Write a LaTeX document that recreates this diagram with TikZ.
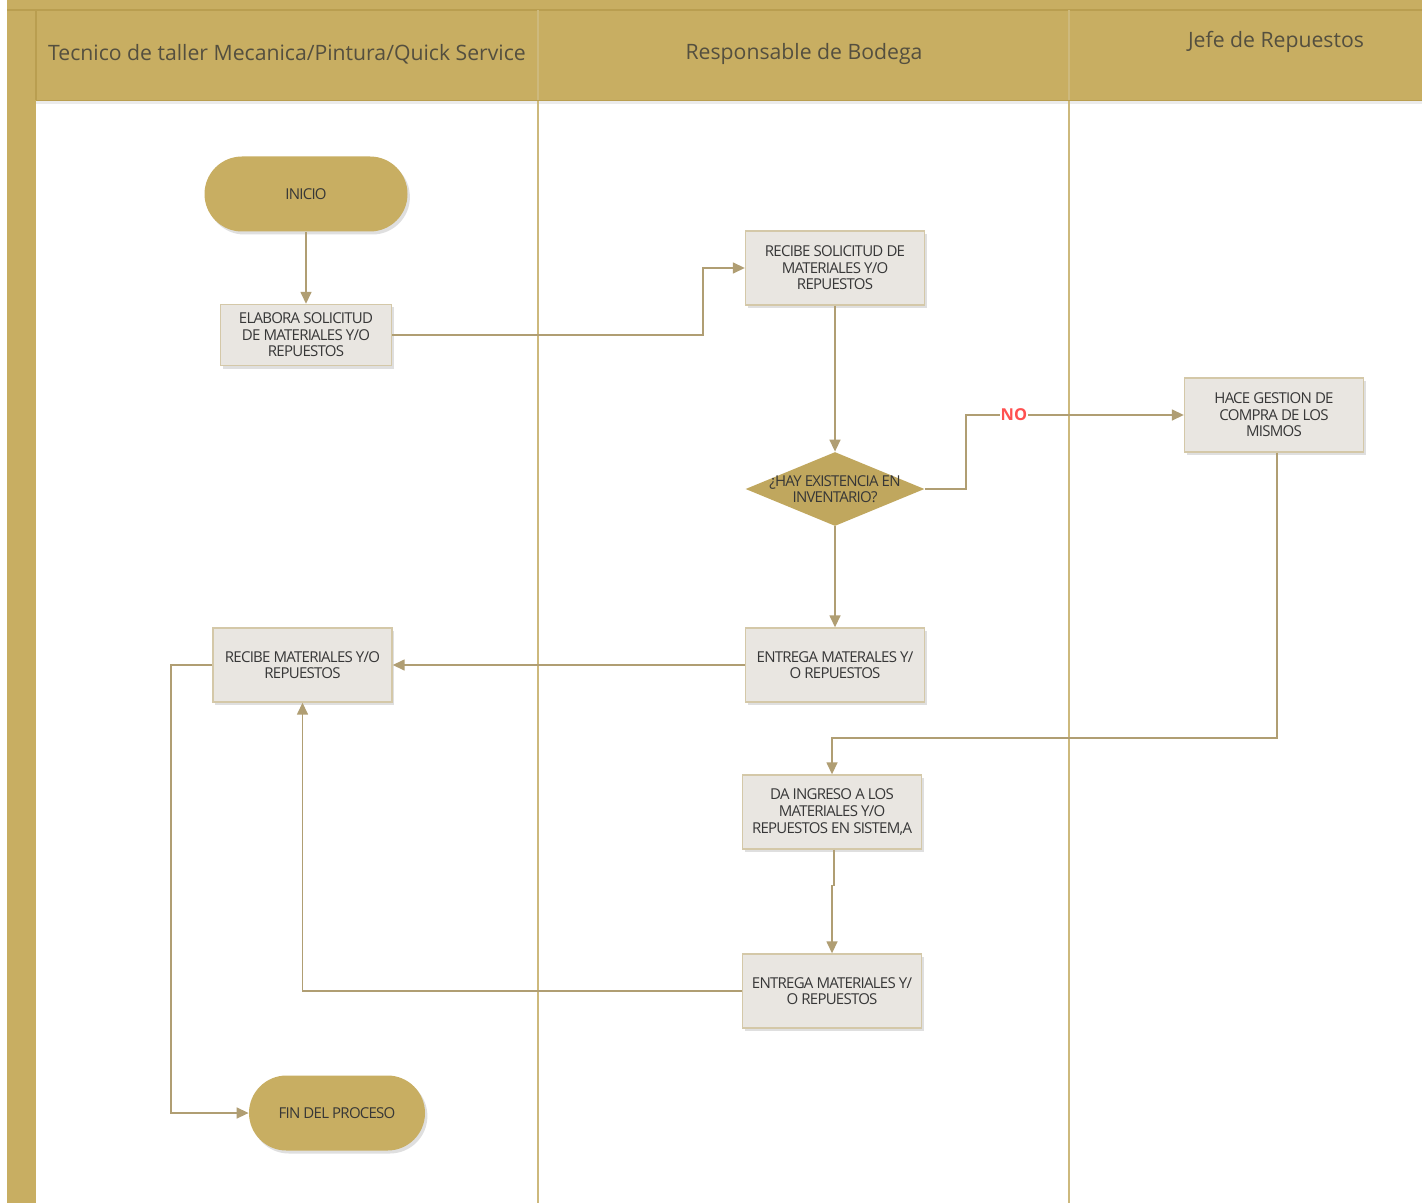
\documentclass[tikz,border=0pt]{standalone}
\usepackage{fontspec}
\setmainfont{Open Sans}
\usetikzlibrary{shapes.geometric,shapes.misc,shadows,arrows.meta}
\definecolor{gold}{RGB}{200,174,98}
\definecolor{goldline}{RGB}{185,158,80}
\definecolor{lanec}{RGB}{205,185,125}
\definecolor{boxfill}{RGB}{233,230,225}
\definecolor{boxborder}{RGB}{212,200,168}
\definecolor{conn}{RGB}{176,158,115}
\definecolor{txt}{RGB}{55,55,55}
\definecolor{nored}{RGB}{255,80,80}
\newfontfamily\boxfontfam{Open Sans}[LetterSpace=-5]
\tikzset{
  boxtext/.style={font=\boxfontfam\fontsize{7.5}{8.3}\selectfont, text=txt},
  proc/.style={rectangle, draw=boxborder, fill=boxfill, line width=0.7pt,
    minimum width=89.5pt, minimum height=37pt, inner sep=1pt, align=center, boxtext,
    drop shadow={opacity=0.25, shadow xshift=1.2pt, shadow yshift=-1.5pt}},
  term/.style={rounded rectangle, fill=gold, draw=none,
    minimum height=37.5pt, inner sep=1pt, align=center, boxtext,
    drop shadow={opacity=0.25, shadow xshift=1.2pt, shadow yshift=-1.5pt}},
  dec/.style={diamond, fill=gold!96!black, draw=none, inner sep=0pt, aspect=2.4,
    minimum width=89.5pt, minimum height=37pt},
  dectext/.style={align=center, boxtext, inner sep=0pt},
  conn/.style={draw=conn, line width=0.75pt, -{Triangle[length=6pt,width=5.5pt]}},
  lane/.style={draw=lanec, line width=0.8pt},
  hdr/.style={font=\fontsize{10.6}{12}\selectfont, text=txt!80!gold, inner sep=0pt}
}
\begin{document}
\begin{tikzpicture}[x=0.5pt,y=-0.5pt]
\useasboundingbox (0,0) rectangle (1422,1203);
\fill[white] (0,0) rectangle (1422,1203);
% header shadow
\fill[black,opacity=0.08] (36,100) rectangle (1422,104);
% gold frame
\fill[gold] (7,0) rectangle (1422,100);
\fill[gold] (7,0) rectangle (36,1203);
\draw[goldline, line width=0.6pt] (7,10) -- (1422,10);
\draw[goldline, line width=0.6pt] (36,10) -- (36,100);
% lanes
\draw[lane] (538,10) -- (538,1203);
\draw[lane] (1069,10) -- (1069,1203);
\draw[goldline, line width=0.4pt] (36,100) -- (1422,100);
% headers
\node[hdr] (h1) at (287,54) {Tecnico de taller Mecanica/Pintura/Quick Service};
\node[hdr] (h2) at (804,54) {Responsable de Bodega};
\node[hdr] (h3) at (1276,42) {Jefe de Repuestos};
% nodes
\node[term, minimum width=103.5pt] (inicio) at (306,194) {INICIO};
\node[proc, minimum width=85.5pt, minimum height=30.5pt] (elabora) at (306,335) {ELABORA SOLICITUD\\DE MATERIALES Y/O\\REPUESTOS};
\node[proc] (recsol) at (835,268) {RECIBE SOLICITUD DE\\MATERIALES Y/O\\REPUESTOS};
\node[dec] (dec) at (835,489) {};
\node[dectext] (dectxt) at (835,489) {¿HAY EXISTENCIA EN\\INVENTARIO?};
\node[proc] (hace) at (1274,415) {HACE GESTION DE\\COMPRA DE LOS\\MISMOS};
\node[proc] (recmat) at (302.5,665) {RECIBE MATERIALES Y/O\\REPUESTOS};
\node[proc] (entrega1) at (835,665) {ENTREGA MATERALES Y/\\O REPUESTOS};
\node[proc] (ingreso) at (832,812) {DA INGRESO A LOS\\MATERIALES Y/O\\REPUESTOS EN SISTEM,A};
\node[proc] (entrega2) at (832,991) {ENTREGA MATERIALES Y/\\O REPUESTOS};
\node[term, minimum width=90pt] (fin) at (337,1113) {FIN DEL PROCESO};
% connectors
\draw[conn] (inicio.south) -- (elabora.north);
\draw[conn] (elabora.east) -- (703,335) |- (recsol.west);
\draw[conn] (recsol.south) -- ++(0,37) -| (dec.north);
\draw[conn] (dec.east) -- (966,489) |- node[pos=0.61, fill=white, inner sep=0.5pt, text=nored, font=\bfseries\fontsize{8.2}{9}\selectfont] (nolbl) {NO} (hace.west);
\draw[conn] (dec.south) -- (entrega1.north);
\draw[conn] (entrega1.west) -- (recmat.east);
\draw[conn] ([xshift=1.5pt]hace.south) coordinate (haceS) -- (haceS |- 0,738) -| (ingreso.north);
\draw[conn] (ingreso.south) ++(2,0) coordinate (ingS) -- ++(0,36) -| (entrega2.north);
\draw[conn] (entrega2.west) -| (recmat.south);
\draw[conn] (recmat.west) -- (171,665) |- (fin.west);
\end{tikzpicture}
\end{document}
